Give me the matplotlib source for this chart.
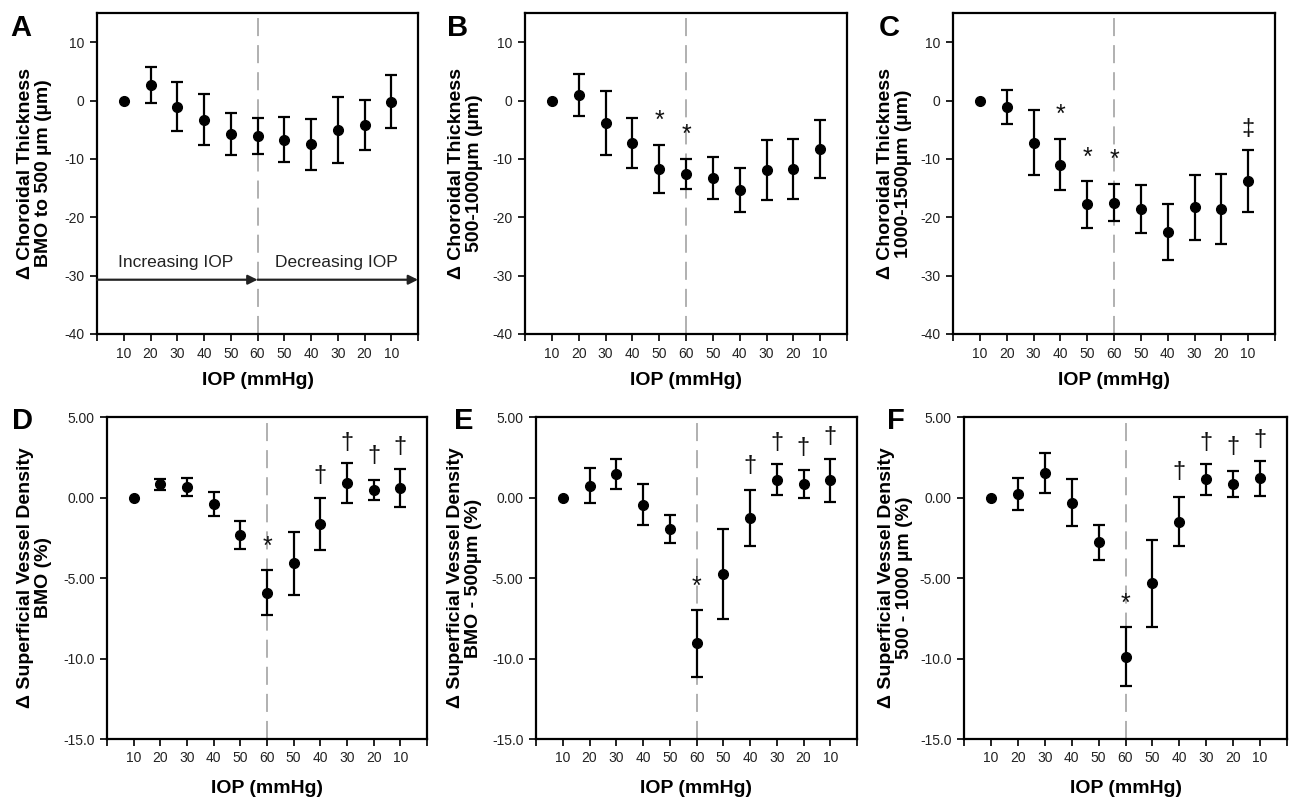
import matplotlib
matplotlib.use("Agg")
import matplotlib.pyplot as plt

plt.rcParams['font.family'] = ['Liberation Sans', 'DejaVu Sans']

iop_labels = ['10', '20', '30', '40', '50', '60', '50', '40', '30', '20', '10']

# Choroidal thickness panels (µm)
a_mean = [0, 2.7, -1.1, -3.3, -5.7, -6.1, -6.7, -7.5, -5.1, -4.2, -0.2]
a_err = [0, 3.1, 4.2, 4.35, 3.55, 3.05, 3.8, 4.35, 5.65, 4.3, 4.55]
b_mean = [0, 1.0, -3.9, -7.3, -11.7, -12.6, -13.3, -15.3, -11.9, -11.7, -8.3]
b_err = [0, 3.6, 5.45, 4.3, 4.1, 2.6, 3.55, 3.8, 5.15, 5.1, 5.0]
c_mean = [0, -1.1, -7.2, -11.0, -17.8, -17.5, -18.6, -22.5, -18.3, -18.6, -13.8]
c_err = [0, 2.95, 5.55, 4.35, 4.05, 3.2, 4.15, 4.8, 5.55, 6.05, 5.35]

# Superficial vessel density panels (%)
d_mean = [0, 0.82, 0.66, -0.41, -2.34, -5.92, -4.08, -1.62, 0.90, 0.45, 0.60]
d_err = [0, 0.34, 0.54, 0.77, 0.86, 1.40, 1.96, 1.62, 1.22, 0.63, 1.16]
e_mean = [0, 0.74, 1.45, -0.45, -1.93, -9.06, -4.74, -1.30, 1.10, 0.85, 1.06]
e_err = [0, 1.07, 0.95, 1.26, 0.87, 2.09, 2.81, 1.74, 0.95, 0.85, 1.33]
f_mean = [0, 0.20, 1.52, -0.32, -2.78, -9.90, -5.33, -1.50, 1.13, 0.86, 1.19]
f_err = [0, 1.00, 1.27, 1.48, 1.10, 1.83, 2.72, 1.53, 0.98, 0.80, 1.09]

# significance marks: (index, y, symbol)
a_marks = []
b_marks = [(4, -3.5, '*'), (5, -5.9, '*')]
c_marks = [(3, -2.5, '*'), (4, -9.8, '*'), (5, -10.2, '*'), (10, -4.9, '‡')]
d_marks = [(5, -3.05, '*'), (7, 1.33, '†'), (8, 3.36, '†'), (9, 2.57, '†'), (10, 3.15, '†')]
e_marks = [(5, -5.55, '*'), (7, 1.95, '†'), (8, 3.36, '†'), (9, 3.05, '†'), (10, 3.73, '†')]
f_marks = [(5, -6.62, '*'), (7, 1.6, '†'), (8, 3.4, '†'), (9, 3.15, '†'), (10, 3.6, '†')]

thick_yticks = [-40, -30, -20, -10, 0, 10]
thick_yticklabels = ['-40', '-30', '-20', '-10', '0', '10']
vd_yticks = [-15, -10, -5, 0, 5]
vd_yticklabels = ['-15.0', '-10.0', '-5.00', '0.00', '5.00']

W, H = 1295, 806
fig = plt.figure(figsize=(W / 100, H / 100), dpi=100)


def px_axes(l, t, r, b):
    return fig.add_axes([l / W, 1 - b / H, (r - l) / W, (b - t) / H])


panels = [
    dict(box=(97, 13, 418, 334), mean=a_mean, err=a_err, marks=a_marks, letter='A', lxy=(10, 14),
         ylab='Δ Choroidal Thickness\nBMO to 500 µm (µm)', ylim=(-40, 15), yt=thick_yticks,
         ytl=thick_yticklabels, ylx=-0.14, xly=-0.118),
    dict(box=(525, 13, 847, 334), mean=b_mean, err=b_err, marks=b_marks, letter='B', lxy=(447, 14),
         ylab='Δ Choroidal Thickness\n500-1000µm (µm)', ylim=(-40, 15), yt=thick_yticks,
         ytl=thick_yticklabels, ylx=-0.13, xly=-0.118),
    dict(box=(953, 13, 1275, 334), mean=c_mean, err=c_err, marks=c_marks, letter='C', lxy=(879, 14),
         ylab='Δ Choroidal Thickness\n1000-1500µm (µm)', ylim=(-40, 15), yt=thick_yticks,
         ytl=thick_yticklabels, ylx=-0.128, xly=-0.118),
    dict(box=(107, 417, 427, 739), mean=d_mean, err=d_err, marks=d_marks, letter='D', lxy=(12, 407),
         ylab='Δ Superficial Vessel Density\nBMO (%)', ylim=(-15, 5), yt=vd_yticks,
         ytl=vd_yticklabels, ylx=-0.172, xly=-0.127),
    dict(box=(536, 417, 857, 739), mean=e_mean, err=e_err, marks=e_marks, letter='E', lxy=(454, 407),
         ylab='Δ Superficial Vessel Density\nBMO - 500µm (%)', ylim=(-15, 5), yt=vd_yticks,
         ytl=vd_yticklabels, ylx=-0.168, xly=-0.127),
    dict(box=(964, 417, 1287, 739), mean=f_mean, err=f_err, marks=f_marks, letter='F', lxy=(887, 407),
         ylab='Δ Superficial Vessel Density\n500 - 1000 µm (%)', ylim=(-15, 5), yt=vd_yticks,
         ytl=vd_yticklabels, ylx=-0.158, xly=-0.127),
]

x = list(range(len(iop_labels)))

for i, p in enumerate(panels):
    ax = px_axes(*p['box'])
    ax.set_xlim(-1, 11)
    ax.set_ylim(*p['ylim'])
    ax.axvline(5, color='#aaaaaa', lw=1.3, dashes=(10, 5), zorder=1)
    ax.errorbar(x[1:], p['mean'][1:], yerr=p['err'][1:], fmt='o', color='black', ms=7,
                elinewidth=1.6, capsize=4.5, capthick=1.6, zorder=3)
    ax.plot(x[0], p['mean'][0], 'o', color='black', ms=7, zorder=3)
    for (xi, yv, sym) in p['marks']:
        fs = 18 if sym == '*' else 17
        ax.text(xi, yv, sym, ha='center', va='center', fontsize=fs, color='#111111', zorder=4)
    ax.set_xticks(list(range(-1, 12)))
    ax.set_xticklabels([''] + iop_labels + [''])
    ax.set_yticks(p['yt'])
    ax.set_yticklabels(p['ytl'])
    ax.tick_params(direction='out', length=5, width=1.4, labelsize=10, colors='#222222', pad=4)
    for s in ax.spines.values():
        s.set_linewidth(1.6)
    ax.set_ylabel(p['ylab'], fontsize=14, fontweight='bold', linespacing=1.05)
    ax.yaxis.set_label_coords(p['ylx'], 0.5)
    ax.set_xlabel('IOP (mmHg)', fontsize=14, fontweight='bold', va='top')
    ax.xaxis.set_label_coords(0.5, p['xly'])
    fig.text(p['lxy'][0] / W, 1 - p['lxy'][1] / H, p['letter'], fontsize=21, fontweight='bold',
             ha='left', va='top')
    if i == 0:
        ax.annotate('', xy=(5, -30.7), xytext=(-1, -30.7),
                    arrowprops=dict(arrowstyle='-|>', lw=1.6, color='#222222', shrinkA=0, shrinkB=0,
                                    mutation_scale=14), zorder=4)
        ax.annotate('', xy=(11, -30.7), xytext=(5, -30.7),
                    arrowprops=dict(arrowstyle='-|>', lw=1.6, color='#222222', shrinkA=0, shrinkB=0,
                                    mutation_scale=14), zorder=4)
        ax.text(1.95, -27.7, 'Increasing IOP', ha='center', va='center', fontsize=12.5, color='#222222')
        ax.text(7.95, -27.7, 'Decreasing IOP', ha='center', va='center', fontsize=12.5, color='#222222')

fig.savefig('out.png', dpi=100)
